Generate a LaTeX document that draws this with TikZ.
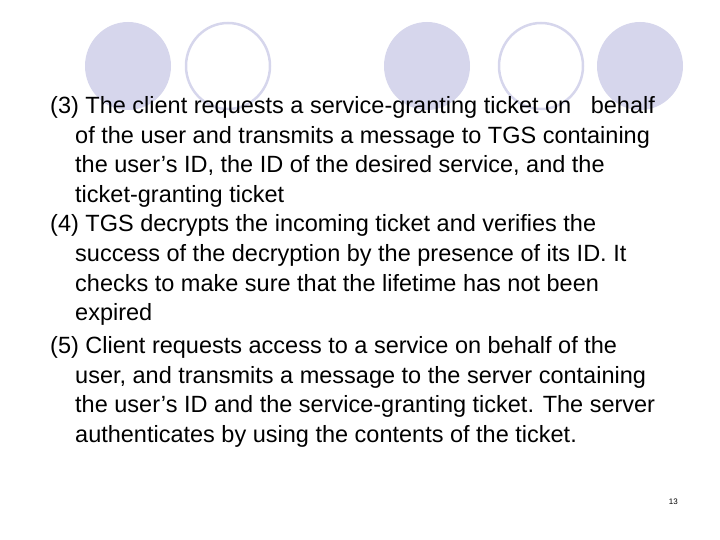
\documentclass[tikz,border=0pt]{standalone}
\usepackage{fontspec}
\setmainfont{Liberation Sans}
\begin{document}
\begin{tikzpicture}[x=1pt,y=-1pt,
  ln/.style={anchor=base west,inner sep=0pt,font=\fontsize{23.5}{28}\selectfont},
  fc/.style={fill={rgb,255:red,214;green,214;blue,236}},
  oc/.style={draw={rgb,255:red,214;green,214;blue,236},line width=2.5pt}]
\useasboundingbox (0,0) rectangle (720,540);
\fill[fc] (128,66) ellipse (43 and 44);
\draw[oc] (228,66) ellipse (42 and 43);
\fill[fc] (427,66) ellipse (43 and 44);
\draw[oc] (541,66) ellipse (42 and 43);
\fill[fc] (640,66) ellipse (43 and 44);
\node[ln] (l1) at (50,114) {(3) The client requests a service-granting ticket on \ \ behalf};
\node[ln] (l2) at (75,143.5) {of the user and transmits a message to TGS containing};
\node[ln] (l3) at (75,173) {the user’s ID, the ID of the desired service, and the};
\node[ln] (l4) at (75,202.5) {ticket-granting ticket};
\node[ln] (l5) at (50,232) {(4) TGS decrypts the incoming ticket and verifies the};
\node[ln] (l6) at (75,261.5) {success of the decryption by the presence of its ID. It};
\node[ln] (l7) at (75,291) {checks to make sure that the lifetime has not been};
\node[ln] (l8) at (75,320.5) {expired};
\node[ln] (l9) at (50,353.5) {(5) Client requests access to a service on behalf of the};
\node[ln] (l10) at (75,383) {user, and transmits a message to the server containing};
\node[ln] (l11) at (75,412.5) {the user’s ID and the service-granting ticket. The server};
\node[ln] (l12) at (75,442) {authenticates by using the contents of the ticket.};
\node[anchor=base east,inner sep=0pt,font=\fontsize{8}{9}\selectfont] (pg) at (678,504) {13};
\end{tikzpicture}
\end{document}
